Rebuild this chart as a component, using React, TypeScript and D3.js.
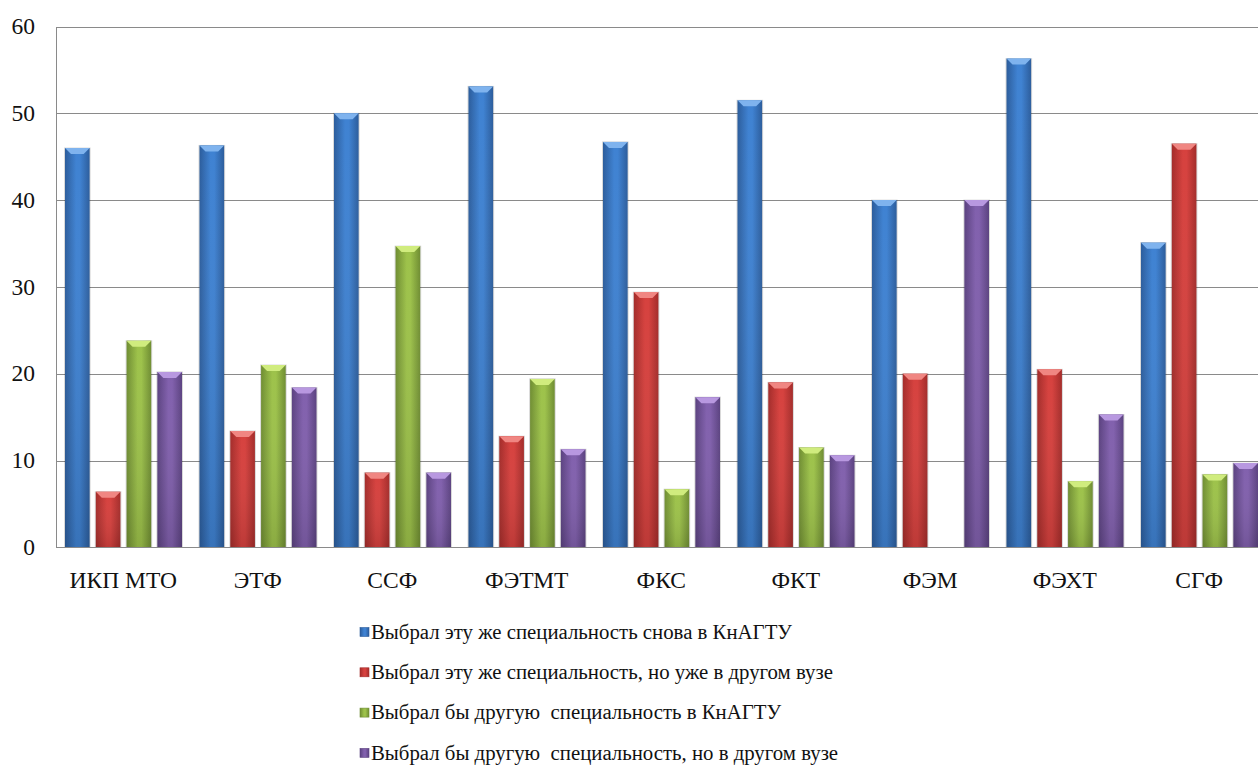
import React from "react";
import * as d3 from "d3";

const categories = ["ИКП МТО", "ЭТФ", "ССФ", "ФЭТМТ", "ФКС", "ФКТ", "ФЭМ", "ФЭХТ", "СГФ"];
const seriesNames = [
  "Выбрал эту же специальность снова в КнАГТУ",
  "Выбрал эту же специальность, но уже в другом вузе",
  "Выбрал бы другую  специальность в КнАГТУ",
  "Выбрал бы другую  специальность, но в другом вузе",
];
const sameHere = [46, 46.3, 50, 53.1, 46.7, 51.5, 40, 56.3, 35.1];
const sameElsewhere = [6.4, 13.4, 8.6, 12.8, 29.4, 19, 20, 20.5, 46.5];
const otherHere = [23.8, 21, 34.7, 19.4, 6.7, 11.5, 0, 7.6, 8.4];
const otherElsewhere = [20.2, 18.4, 8.6, 11.3, 17.3, 10.6, 40, 15.3, 9.7];
const yTicks = [0, 10, 20, 30, 40, 50, 60];

const seriesValues = [sameHere, sameElsewhere, otherHere, otherElsewhere];
const palette = [
  { mid: "#3f82d2", edge: "#2c5d9c", cap: "#7fb3ee" },
  { mid: "#d6413e", edge: "#a32c2a", cap: "#f08682" },
  { mid: "#9dc24a", edge: "#6f8d32", cap: "#d0ec7e" },
  { mid: "#8160ad", edge: "#5b4280", cap: "#b898e0" },
];

const W = 1258;
const H = 771;
const plotLeft = 56;
const plotRight = 56 + 9 * 134.5;
const plotTop = 26.5;
const plotBottom = 547.3;
const FONT = `"Liberation Serif", "Times New Roman", serif`;

export default function App() {
  const x0 = d3.scaleBand<string>().domain(categories).range([plotLeft, plotRight]).padding(0);
  const x1 = d3
    .scaleBand<number>()
    .domain([0, 1, 2, 3])
    .range([9, 126])
    .paddingInner(0.2)
    .paddingOuter(0);
  const y = d3.scaleLinear().domain([0, 60]).range([plotBottom, plotTop]);
  const bw = x1.bandwidth();

  return (
    <div style={{ position: "fixed", left: 0, top: 0, width: W, height: H, background: "#fff" }}>
      <svg width={W} height={H} style={{ display: "block", overflow: "hidden" }}>
        <defs>
          {palette.map((p, i) => (
            <linearGradient id={`g${i}`} key={i} x1="0" x2="1" y1="0" y2="0">
              <stop offset="0" stopColor={p.edge} />
              <stop offset="0.45" stopColor={p.mid} />
              <stop offset="0.6" stopColor={p.mid} />
              <stop offset="1" stopColor={p.edge} />
            </linearGradient>
          ))}
          {palette.map((p, i) => (
            <linearGradient id={`v${i}`} key={i} x1="0" x2="0" y1="0" y2="1">
              <stop offset="0" stopColor="#fff" stopOpacity="0" />
              <stop offset="1" stopColor="#000" stopOpacity="0.12" />
            </linearGradient>
          ))}
        </defs>
        {/* gridlines */}
        {yTicks.map((t) => (
          <line
            key={t}
            x1={plotLeft}
            x2={plotRight}
            y1={Math.round(y(t)) + 0.5}
            y2={Math.round(y(t)) + 0.5}
            stroke="#8a8a8a"
            strokeWidth={1}
          />
        ))}
        <line
          x1={plotLeft + 0.5}
          x2={plotLeft + 0.5}
          y1={Math.round(y(60)) + 0.5}
          y2={Math.round(y(0)) + 0.5}
          stroke="#8a8a8a"
        />
        {/* y labels */}
        {yTicks.map((t) => (
          <text
            key={t}
            x={35}
            y={y(t)}
            dy="0.33em"
            textAnchor="end"
            style={{ fontFamily: FONT, fontSize: 23.5 }}
            fill="#111"
          >
            {t}
          </text>
        ))}
        {/* bars */}
        {categories.map((c, ci) => (
          <g key={c} transform={`translate(${x0(c)},0)`}>
            {seriesValues.map((vals, si) => {
              const v = vals[ci];
              if (!v) return null;
              const bx = x1(si)!;
              const by = y(v);
              const bh = y(0) - by;
              const cap = Math.min(6, bh / 2);
              return (
                <g key={si}>
                  <rect x={bx - 1} y={by - 0.5} width={bw + 2} height={bh + 0.5} fill="#000" opacity={0.15} />
                  <rect x={bx} y={by} width={bw} height={bh} fill={`url(#g${si})`} />
                  <rect x={bx} y={by} width={bw} height={bh} fill={`url(#v${si})`} />
                  <polygon
                    points={`${bx},${by} ${bx + bw},${by} ${bx + bw - 6},${by + cap} ${bx + 6},${by + cap}`}
                    fill={palette[si].cap}
                  />
                </g>
              );
            })}
          </g>
        ))}
        {/* bottom axis */}
        <line
          x1={plotLeft}
          x2={plotRight}
          y1={Math.round(y(0)) + 0.5}
          y2={Math.round(y(0)) + 0.5}
          stroke="#8a8a8a"
        />
        {/* x labels */}
        {categories.map((c) => (
          <text
            key={c}
            x={x0(c)! + x0.bandwidth() / 2}
            y={588}
            textAnchor="middle"
            style={{ fontFamily: FONT, fontSize: 23.5 }}
            fill="#111"
          >
            {c}
          </text>
        ))}
        {/* legend */}
        {seriesNames.map((n, i) => {
          const cy = 632 + i * 40.3;
          return (
            <g key={n}>
              <rect x={360} y={cy - 4.5} width={9} height={9} fill={`url(#g${i})`} stroke={palette[i].edge} strokeWidth={0.6} />
              <text
                x={371}
                y={cy}
                dy="0.33em"
                style={{ fontFamily: FONT, fontSize: 20.8, whiteSpace: "pre" }}
                fill="#111"
              >
                {n}
              </text>
            </g>
          );
        })}
      </svg>
    </div>
  );
}
